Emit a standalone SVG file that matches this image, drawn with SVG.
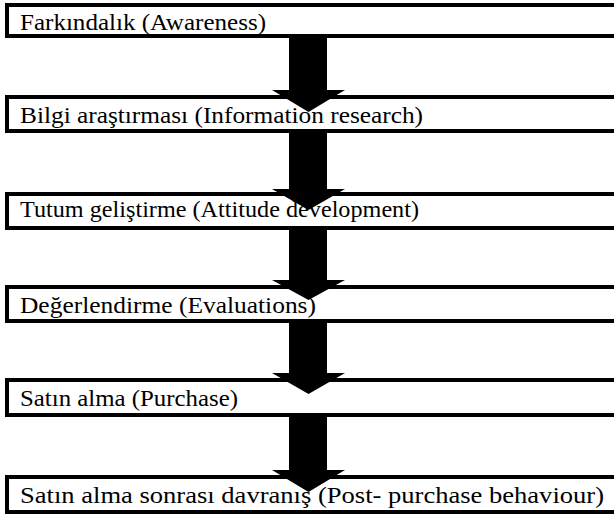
<svg xmlns="http://www.w3.org/2000/svg" width="614" height="514" viewBox="0 0 614 514">
<style>
.box{fill:#fff;stroke:#000;stroke-width:4}
.lbl{font-family:'Liberation Serif','Times New Roman',serif;font-size:24px;fill:#000}
.arrow{fill:#000;stroke:none}
</style>
<rect width="614" height="514" fill="#fff"/>
<g id="node1"><rect class="box" x="7" y="5" width="620" height="31"/><text class="lbl" x="20" y="30" textLength="246" lengthAdjust="spacingAndGlyphs">Farkındalık (Awareness)</text></g>
<g id="node2"><rect class="box" x="7" y="97" width="620" height="34"/><text class="lbl" x="20" y="123" textLength="403" lengthAdjust="spacingAndGlyphs">Bilgi araştırması (Information research)</text></g>
<g id="node3"><rect class="box" x="7" y="194" width="620" height="34"/><text class="lbl" x="20" y="217" textLength="399" lengthAdjust="spacingAndGlyphs">Tutum geliştirme (Attitude development)</text></g>
<g id="node4"><rect class="box" x="7" y="287" width="620" height="34"/><text class="lbl" x="20" y="313" textLength="296" lengthAdjust="spacingAndGlyphs">Değerlendirme (Evaluations)</text></g>
<g id="node5"><rect class="box" x="7" y="380" width="620" height="35"/><text class="lbl" x="20" y="406" textLength="218" lengthAdjust="spacingAndGlyphs">Satın alma (Purchase)</text></g>
<g id="node6"><rect class="box" x="7" y="477" width="620" height="35"/><text class="lbl" x="20" y="503" textLength="584" lengthAdjust="spacingAndGlyphs">Satın alma sonrası davranış (Post- purchase behaviour)</text></g>
<g id="connectors">
<polygon class="arrow" points="289,38 327,38 327,90 345,90 308.5,112 272,90 289,90"/>
<polygon class="arrow" points="289,133 327,133 327,189 345,189 308.5,210 272,189 289,189"/>
<polygon class="arrow" points="289,230 327,230 327,280 345,280 308.5,300 272,280 289,280"/>
<polygon class="arrow" points="289,323 327,323 327,373 345,373 308.5,394 272,373 289,373"/>
<polygon class="arrow" points="289,417 327,417 327,470 345,470 308.5,492 272,470 289,470"/>
</g>
</svg>
